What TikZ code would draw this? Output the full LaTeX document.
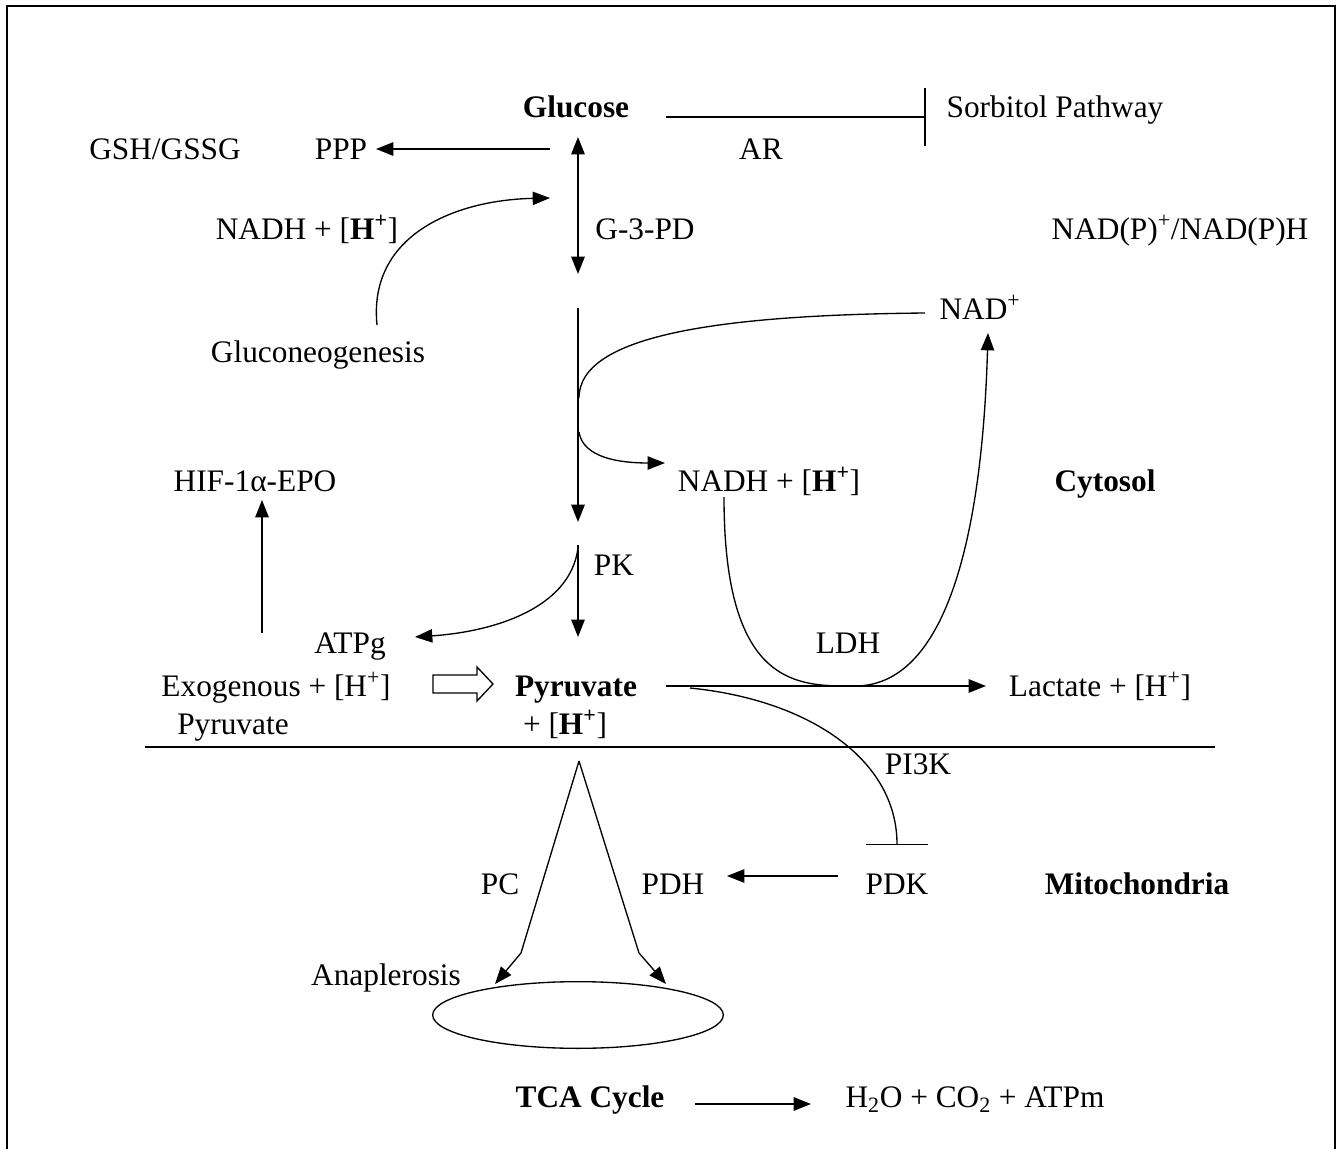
\documentclass[tikz,border=0pt]{standalone}
\usepackage{fontspec}
\setmainfont{Liberation Serif}
\usetikzlibrary{arrows.meta,shapes.geometric}
\begin{document}
\begin{tikzpicture}[x=0.75pt,y=-0.75pt,
  every node/.style={font=\fontsize{23.5}{28}\selectfont, inner sep=0pt, text height=19pt, text depth=3pt},
  bf/.style={font=\fontsize{23.5}{28}\selectfont\bfseries},
  ln/.style={line width=1.3pt},
  thin/.style={line width=1pt},
  arr/.style={ln,-{Triangle[length=13pt,width=10pt]}},
  arrthin/.style={thin,-{Triangle[length=13pt,width=10pt]}},
  darr/.style={ln,{Triangle[length=13pt,width=10pt]}-{Triangle[length=13pt,width=10pt]}},
  inh/.style={ln,-{Bar[width=44pt]}}
]
\useasboundingbox (0,0) rectangle (1340,1149);
% frame
\draw[line width=1pt] (7,1149) -- (7,6) -- (1335,6) -- (1335,1149);

% nodes
\node[bf] (glucose) at (576,107) {Glucose};
\node (sorbitol) at (1055,107) {Sorbitol Pathway};
\node (ar) at (761,149) {AR};
\node (gsh) at (165,149) {GSH/GSSG};
\node (ppp) at (341,149) {PPP};
\node (g3pd) at (645,229) {G-3-PD};
\node (nadhL) at (307,229) {NADH + [\textbf{H\textsuperscript{+}}]};
\node (nadp) at (1180,229) {NAD(P)\textsuperscript{+}/NAD(P)H};
\node (gluconeo) at (318,352) {Gluconeogenesis};
\node (nad) at (980,309) {NAD\textsuperscript{+}};
\node (nadhM) at (769,481) {NADH + [\textbf{H\textsuperscript{+}}]};
\node[bf] (cytosol) at (1105,481) {Cytosol};
\node (hif) at (255,481) {HIF-1α-EPO};
\node (pk) at (614,565) {PK};
\node (atpg) at (350,643) {ATPg};
\node (ldh) at (848,643) {LDH};
\node (exo) at (276,686) {Exogenous + [H\textsuperscript{+}]};
\node (exo2) at (233,724) {Pyruvate};
\node[bf] (pyr) at (576,686) {Pyruvate};
\node (pyrh) at (565,724) {+ [\textbf{H\textsuperscript{+}}]};
\node (lactate) at (1100,686) {Lactate + [H\textsuperscript{+}]};
\node (pi3k) at (918,764) {PI3K};
\node (pc) at (500,884) {PC};
\node (pdh) at (673,884) {PDH};
\node (pdk) at (897,884) {PDK};
\node[bf] (mito) at (1137,884) {Mitochondria};
\node (anap) at (386,975) {Anaplerosis};
\node[draw, thin, ellipse, minimum width=218pt, minimum height=50pt, text height=0pt, text depth=0pt] (tca) at (578,1015) {};
\node[bf] (tcalbl) at (590,1097) {TCA Cycle};
\node (h2o) at (975,1097) {H\textsubscript{2}O + CO\textsubscript{2} + ATPm};

% coordinates
\coordinate (arS) at (666,117);
\coordinate (arE) at (926,117);
\coordinate (pppS) at (550,149);
\coordinate (pppE) at (376,149);
\coordinate (g1) at (578,137);
\coordinate (g2) at (578,274);
\coordinate (gnS) at (377,325);
\coordinate (gnE) at (550,198);
\coordinate (v1) at (578,308);
\coordinate (v2) at (578,522);
\coordinate (nadS) at (925,313);
\coordinate (nadJ) at (579,398);
\coordinate (nadhJ) at (579,432);
\coordinate (nadhE) at (665,463);
\coordinate (ldhS) at (724,497);
\coordinate (ldhB) at (855,686);
\coordinate (ldhE) at (988,333);
\coordinate (pk1) at (578,545);
\coordinate (pk2) at (578,637);
\coordinate (atpE) at (415,637);
\coordinate (hifS) at (262,633);
\coordinate (hifE) at (262,500);
\coordinate (latS) at (666,686);
\coordinate (latE) at (986,686);
\coordinate (memL) at (145,747);
\coordinate (memR) at (1215,747);
\coordinate (piS) at (690,688);
\coordinate (piE) at (897,845);
\coordinate (pdkS) at (838,876);
\coordinate (pdkE) at (727,876);
\coordinate (apex) at (579,761);
\coordinate (lk) at (521,953);
\coordinate (lE) at (495,984);
\coordinate (rk) at (639,953);
\coordinate (rE) at (666,984);
\coordinate (tS) at (695,1104);
\coordinate (tE) at (811,1104);

% connectors
\draw[inh] (arS) -- (arE);
\draw[arr] (pppS) -- (pppE);
\draw[darr] (g1) -- (g2);
\draw[arrthin] (gnS) .. controls (368,235) and (455,200) .. (gnE);
\draw[arr] (v1) -- (v2);
\draw[thin] (nadS) .. controls (720,315) and (579,335) .. (nadJ);
\draw[arrthin] (nadhJ) .. controls (583,458) and (620,463) .. (nadhE);
\draw[thin,-{Triangle[length=13pt,width=10pt]}] (ldhS) .. controls (724,690) and (800,686) .. (ldhB) .. controls (945,686) and (982,540) .. (ldhE);
\draw[arr] (pk1) -- (pk2);
\draw[arrthin] (578,548) .. controls (570,610) and (490,632) .. (atpE);
\draw[arr] (hifS) -- (hifE);
\draw[arr] (latS) -- (latE);
\draw[line width=1.6pt] (memL) -- (memR);
\draw[thin,-{Bar[width=47pt]}] (piS) .. controls (810,700) and (897,760) .. (piE);
\draw[arr] (pdkS) -- (pdkE);
\draw[thin] (apex) -- (lk);
\draw[arrthin] (lk) -- (lE);
\draw[thin] (apex) -- (rk);
\draw[arrthin] (rk) -- (rE);
\draw[arr] (tS) -- (tE);
% hollow arrow
\draw[line width=1pt] (433,675) -- (477,675) -- (477,667) -- (493,684) -- (477,701) -- (477,693) -- (433,693) -- cycle;
\end{tikzpicture}
\end{document}
